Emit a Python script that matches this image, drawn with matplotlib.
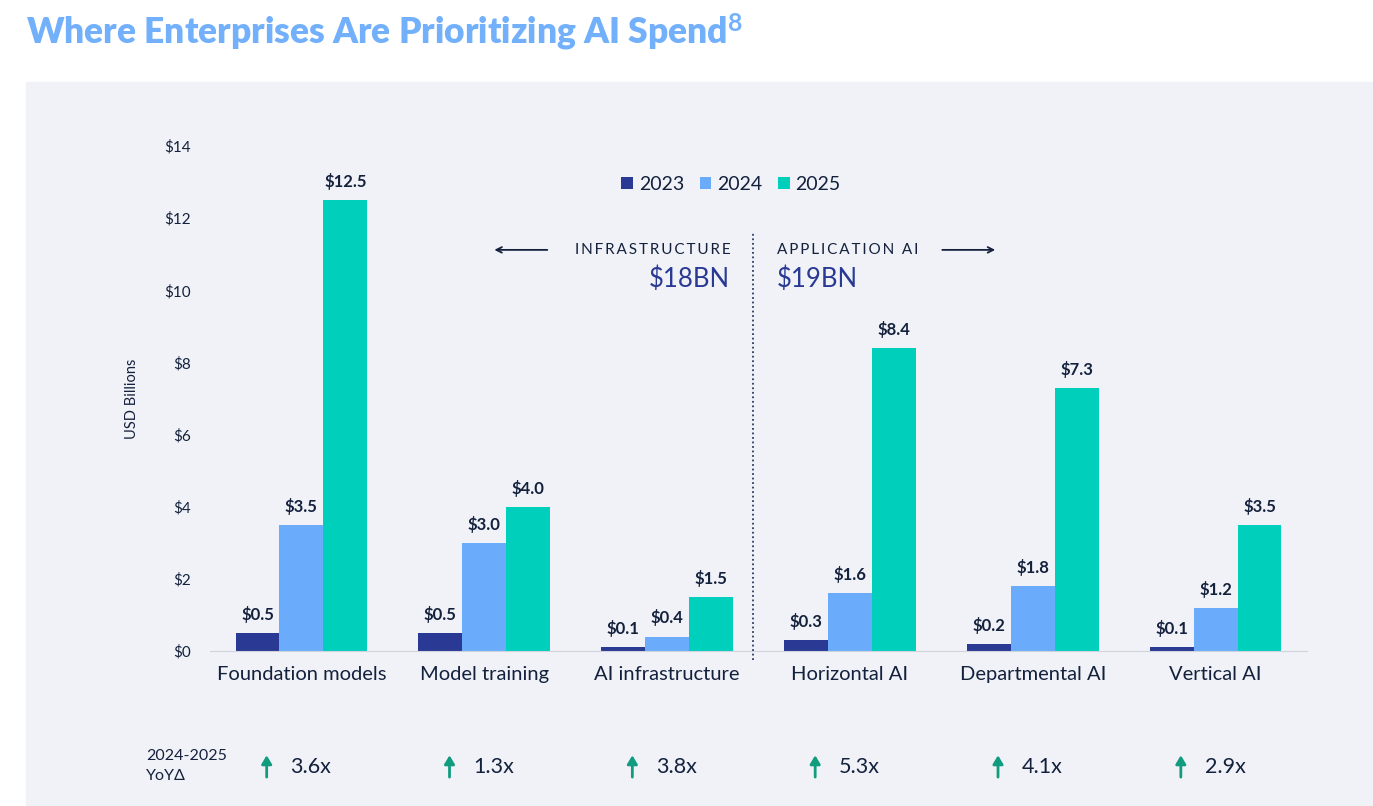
import matplotlib.pyplot as plt
import numpy as np
from matplotlib.patches import Rectangle
from matplotlib.transforms import blended_transform_factory

plt.rcParams['font.family'] = ['Lato', 'DejaVu Sans']
plt.rcParams['mathtext.fontset'] = 'custom'
plt.rcParams['mathtext.rm'] = 'Lato:bold'
plt.rcParams['mathtext.default'] = 'rm'

categories = ['Foundation models', 'Model training', 'AI infrastructure',
              'Horizontal AI', 'Departmental AI', 'Vertical AI']
years = ['2023', '2024', '2025']
spend_2023 = [0.5, 0.5, 0.1, 0.3, 0.2, 0.1]
spend_2024 = [3.5, 3.0, 0.4, 1.6, 1.8, 1.2]
spend_2025 = [12.5, 4.0, 1.5, 8.4, 7.3, 3.5]
yoy = ['3.6x', '1.3x', '3.8x', '5.3x', '4.1x', '2.9x']
yticks = [0, 2, 4, 6, 8, 10, 12, 14]

colors = ['#2a3a94', '#6aacfb', '#00cfbc']
navy = '#14213d'
bg = '#f0f2f7'


def spaced(s):
    return '\u2009'.join(s)


fig = plt.figure(figsize=(13.73, 8.06), dpi=100)
fig.patches.append(Rectangle((26 / 1373, 0), 1, (806 - 82) / 806,
                             transform=fig.transFigure, color=bg, zorder=-5))

fig.text(26 / 1373, 1 - 32 / 806, 'Where Enterprises Are Prioritizing AI Spend$^{8}$',
         fontsize=25.5, fontweight='heavy', color='#72b0fb', va='center', ha='left')

ax = fig.add_axes([210 / 1373, (806 - 651) / 806, 1097 / 1373, 505 / 806])
ax.set_facecolor('none')

x = np.arange(len(categories))
w = 0.24
series = [spend_2023, spend_2024, spend_2025]
for i, (vals, c, yr) in enumerate(zip(series, colors, years)):
    pos = x + (i - 1) * w
    ax.bar(pos, vals, width=w, color=c, label=yr, zorder=2)
    for p, v in zip(pos, vals):
        ax.text(p, v + 0.28, f'${v:.1f}', ha='center', va='bottom',
                fontsize=12, fontweight='bold', color=navy)

ax.set_xlim(-0.5, 5.5)
ax.set_ylim(0, 14)
ax.set_yticks(yticks)
ax.set_yticklabels([f'${t}' for t in yticks], fontsize=11, color=navy)
ax.set_xticks(x)
ax.set_xticklabels(categories, fontsize=14.5, color=navy)
ax.tick_params(axis='both', length=0)
ax.tick_params(axis='y', pad=14)
ax.tick_params(axis='x', pad=11)
for s in ['top', 'right', 'left']:
    ax.spines[s].set_visible(False)
ax.spines['bottom'].set_color('#cfd3dc')
ax.set_ylabel('USD Billions', fontsize=10.5, color=navy, labelpad=18)

leg = ax.legend(loc='upper center', bbox_to_anchor=(0.475, 0.976), ncol=3, frameon=False,
                fontsize=14, handlelength=0.6, handleheight=0.6, handletextpad=0.3,
                columnspacing=0.8)
for t in leg.get_texts():
    t.set_color(navy)

# divider between infrastructure and application
ax.plot([2.47, 2.47], [-0.25, 11.6], ls=(0, (1, 1.5)), color='#2a3a6a', lw=1.3,
        clip_on=False, zorder=3)

ax.text(2.345, 11.12, spaced('INFRASTRUCTURE'), ha='right', va='center',
        fontsize=11, color=navy)
ax.text(2.345, 10.3, '$18BN', ha='right', va='center', fontsize=18.5, color='#2a3a94')
ax.text(2.6, 11.12, spaced('APPLICATION AI'), ha='left', va='center',
        fontsize=11, color=navy)
ax.text(2.6, 10.3, '$19BN', ha='left', va='center', fontsize=18.5, color='#2a3a94')
ax.annotate('', xy=(1.04, 11.12), xytext=(1.36, 11.12),
            arrowprops=dict(arrowstyle='->', color=navy, lw=1.3))
ax.annotate('', xy=(3.81, 11.12), xytext=(3.49, 11.12),
            arrowprops=dict(arrowstyle='->', color=navy, lw=1.3))

# YoY row
tr = blended_transform_factory(ax.transData, fig.transFigure)
fig.text(146 / 1373, 1 - 756 / 806, '2024-2025', fontsize=11.5, color=navy, va='center')
fig.text(146 / 1373, 1 - 776 / 806, 'YoY\u0394', fontsize=11.5, color=navy, va='center')
ybase = 1 - 767 / 806
for xi, g in zip(x, yoy):
    ax.annotate('', xy=(xi - 0.19, ybase + 0.018), xytext=(xi - 0.19, ybase - 0.016),
                xycoords=tr, textcoords=tr,
                arrowprops=dict(arrowstyle='-|>,head_width=0.3,head_length=0.5',
                                color='#119c80', lw=2))
    ax.text(xi - 0.06, ybase, g, transform=tr, fontsize=15.5, color=navy,
            va='center', ha='left')

fig.savefig('out.png', dpi=100)
